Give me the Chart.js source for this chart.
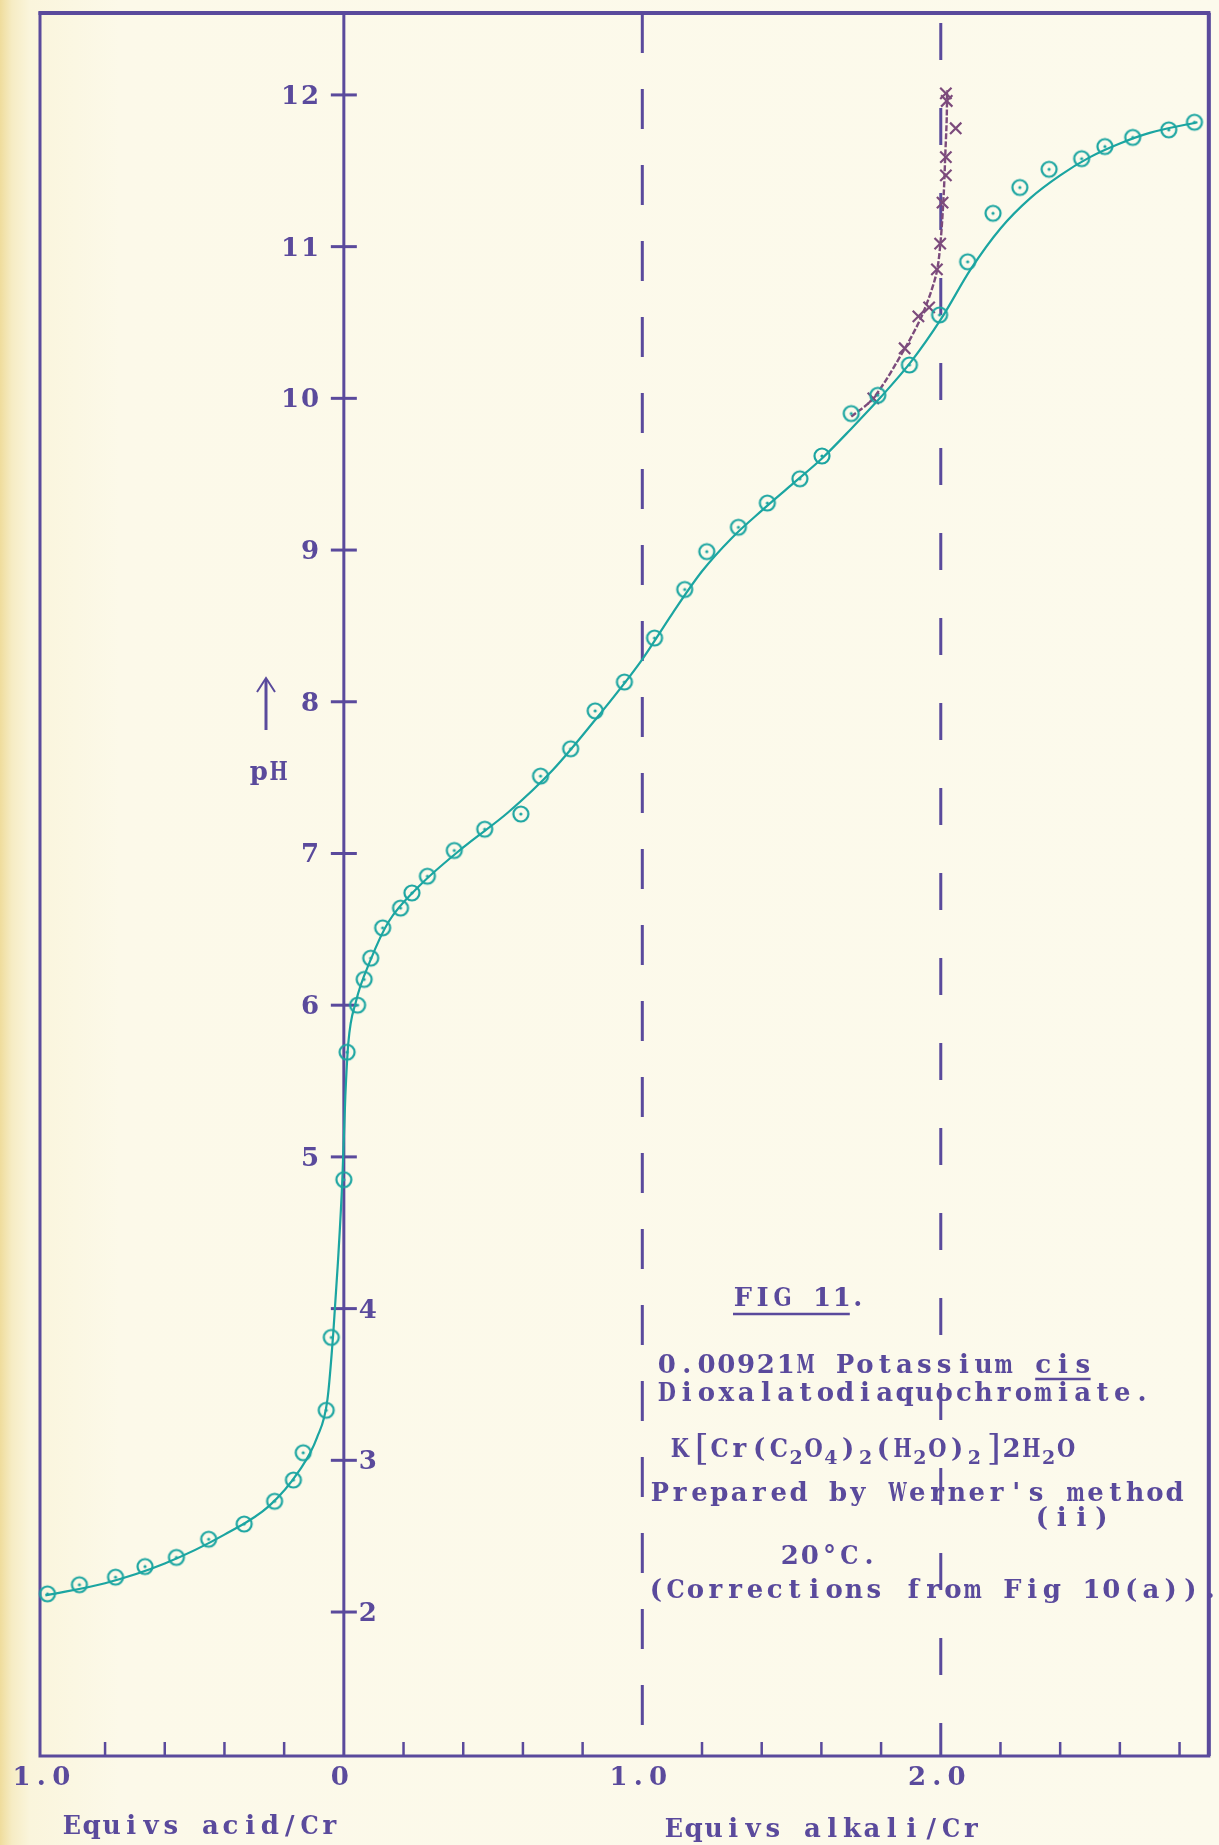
<!DOCTYPE html>
<html>
<head>
<meta charset="utf-8">
<script src="https://cdn.jsdelivr.net/npm/chart.js@4.4.1/dist/chart.umd.min.js"></script>
<style>
  html, body { margin: 0; padding: 0; background: #fbf8e6; }
  #wrap {
    position: relative; width: 1219px; height: 1845px;
    background: linear-gradient(to right, #efdc9c 0px, #f6ecc4 12px, #faf5dc 30px, #fcf9e9 120px, #fcfaec 100%);
  }
  canvas { display: block; }
</style>
</head>
<body>
<div id="wrap"><canvas id="titration" width="1219" height="1845"></canvas></div>
<script>
// Equivs acid/Cr are plotted as negative x (left of zero), alkali as positive
const pointX = [-0.993, -0.886, -0.765, -0.666, -0.561, -0.453, -0.334, -0.232, -0.169, -0.136,
  -0.059, -0.042, 0.000, 0.011, 0.046, 0.068, 0.090, 0.130, 0.190, 0.228, 0.280, 0.370, 0.472,
  0.593, 0.659, 0.760, 0.842, 0.940, 1.041, 1.142, 1.216, 1.322, 1.419, 1.528, 1.602, 1.700,
  1.789, 1.895, 1.996, 2.090, 2.175, 2.265, 2.363, 2.472, 2.550, 2.643, 2.764, 2.850];
const pointPH = [2.12, 2.18, 2.23, 2.30, 2.36, 2.48, 2.58, 2.73, 2.87, 3.05,
  3.33, 3.81, 4.85, 5.69, 6.00, 6.17, 6.31, 6.51, 6.64, 6.74, 6.85, 7.02, 7.16,
  7.26, 7.51, 7.69, 7.94, 8.13, 8.42, 8.74, 8.99, 9.15, 9.31, 9.47, 9.62, 9.90,
  10.02, 10.22, 10.55, 10.90, 11.22, 11.39, 11.51, 11.58, 11.66, 11.72, 11.77, 11.82];

// hand drawn smooth curve through the circles
const curveX = [-1.0, -0.8, -0.6, -0.4, -0.25, -0.15, -0.09, -0.055, -0.035, -0.02, -0.005, 0.005,
  0.015, 0.04, 0.09, 0.15, 0.25, 0.4, 0.55, 0.7, 0.85, 1.0, 1.1, 1.2, 1.3, 1.4, 1.5, 1.6, 1.7, 1.8,
  1.9, 2.0, 2.1, 2.2, 2.3, 2.4, 2.5, 2.6, 2.7, 2.86];
const curvePH = [2.11, 2.19, 2.32, 2.51, 2.70, 2.93, 3.15, 3.40, 3.85, 4.30, 4.85, 5.40,
  5.75, 6.02, 6.30, 6.55, 6.78, 7.04, 7.27, 7.55, 7.90, 8.28, 8.58, 8.86, 9.08, 9.26, 9.43, 9.60, 9.80, 10.01,
  10.24, 10.52, 10.85, 11.12, 11.32, 11.47, 11.59, 11.68, 11.75, 11.82];

// second run (crosses)
const crossX = [1.774, 1.879, 1.925, 1.961, 1.987, 1.998, 2.006, 2.017, 2.017, 2.050, 2.020, 2.017];
const crossPH = [10.00, 10.33, 10.54, 10.60, 10.85, 11.02, 11.29, 11.47, 11.59, 11.78, 11.96, 12.01];
const crossLineX = [1.70, 1.774, 1.88, 1.94, 1.985, 2.0, 2.01, 2.015, 2.02, 2.021];
const crossLinePH = [9.88, 10.00, 10.33, 10.56, 10.82, 11.05, 11.35, 11.60, 11.85, 12.03];

const xMinorTicks = [-0.8, -0.6, -0.4, -0.2, 0.2, 0.4, 0.6, 0.8, 1.2, 1.4, 1.6, 1.8, 2.2, 2.4, 2.6, 2.8];
const xLabelValues = [-1, 0, 1, 2];
const xLabelTexts = ['1.0', '0', '1.0', '2.0'];
const yTicks = [2, 3, 4, 5, 6, 7, 8, 9, 10, 11, 12];
const dashedAt = [1, 2];

const INK = '#5a4a9c';
const TEAL = '#1ba5a1';
const PLUM = '#7c4b7c';
const FACE = '"DejaVu Serif", "Liberation Serif", serif';
const FONT = 'bold 26px ' + FACE;
const SUBFONT = 'bold 19px ' + FACE;
const PITCH = 19.8;

// circle with a dot in the middle, as drawn by hand
function ringDot(color) {
  const c = document.createElement('canvas');
  c.width = 22; c.height = 22;
  const g = c.getContext('2d');
  g.strokeStyle = color; g.lineWidth = 2.2;
  g.beginPath(); g.arc(11, 11, 7.5, 0, Math.PI * 2); g.stroke();
  g.fillStyle = color;
  g.beginPath(); g.arc(11, 11, 1.6, 0, Math.PI * 2); g.fill();
  return c;
}

function toXY(xs, ys) {
  return xs.map((v, i) => ({ x: v, y: ys[i] }));
}

// typewriter: every character gets the same pitch, wide letters squeezed
function typeText(ctx, str, x, y, pitch) {
  ctx.textAlign = 'center';
  const maxW = pitch * 0.92;
  for (let i = 0; i < str.length; i++) {
    const ch = str[i];
    if (ch === ' ') continue;
    const w = ctx.measureText(ch).width;
    const s = w > maxW ? maxW / w : 1;
    ctx.save();
    ctx.translate(x + i * pitch + pitch / 2, y);
    ctx.scale(s, 1);
    ctx.fillText(ch, 0, 0);
    ctx.restore();
  }
  return x + str.length * pitch;
}

function seg(ctx, x1, y1, x2, y2) {
  ctx.beginPath(); ctx.moveTo(x1, y1); ctx.lineTo(x2, y2); ctx.stroke();
}

const paperPlugin = {
  id: 'paper',
  beforeDatasetsDraw(chart) {
    const { ctx, chartArea: a, scales: { x, y } } = chart;
    ctx.save();
    ctx.strokeStyle = INK;
    ctx.lineCap = 'butt';
    ctx.lineWidth = 3;
    ctx.strokeRect(a.left, a.top, a.right - a.left, a.bottom - a.top);
    ctx.lineWidth = 4;
    seg(ctx, a.left - 1.5, a.top, a.right + 1.5, a.top);
    seg(ctx, a.right, a.top, a.right, a.bottom);

    ctx.lineWidth = 3;
    const x0 = x.getPixelForValue(0);
    seg(ctx, x0, a.top, x0, a.bottom);
    yTicks.forEach(v => {
      const py = y.getPixelForValue(v);
      seg(ctx, x0 - 13, py, x0 + 13, py);
    });
    ctx.lineWidth = 2.5;
    xMinorTicks.forEach(v => {
      const px = x.getPixelForValue(v);
      seg(ctx, px, a.bottom, px, a.bottom - 14);
    });

    ctx.lineWidth = 3;
    dashedAt.forEach((v, i) => {
      const px = x.getPixelForValue(v);
      ctx.setLineDash(i === 0 ? [40, 36] : [37, 48]);
      ctx.lineDashOffset = i === 0 ? 0 : -10;
      seg(ctx, px, a.top, px, a.bottom);
    });
    ctx.setLineDash([]);
    ctx.restore();
  },
  afterDraw(chart) {
    const { ctx, chartArea: a, scales: { x, y } } = chart;
    const x0 = x.getPixelForValue(0);
    ctx.save();
    ctx.fillStyle = INK;
    ctx.strokeStyle = INK;
    ctx.font = FONT;
    ctx.textBaseline = 'alphabetic';
    const B = 9; // centre -> baseline

    // pH tick labels: left of the axis above 4, right of it below
    yTicks.forEach(v => {
      const py = y.getPixelForValue(v) + B;
      const s = String(v);
      if (v >= 5) typeText(ctx, s, x0 - 24 - s.length * PITCH, py, PITCH);
      else typeText(ctx, s, x0 + 14, py, PITCH);
    });

    xLabelValues.forEach((v, i) => {
      const s = xLabelTexts[i];
      const px = x.getPixelForValue(v) - 4;
      typeText(ctx, s, px - s.length * PITCH / 2, a.bottom + 20 + B, PITCH);
    });
    typeText(ctx, 'Equivs acid/Cr', 62, 1825 + B, PITCH);
    typeText(ctx, 'Equivs alkali/Cr', 664, 1828 + B, PITCH);

    // pH arrow
    ctx.lineWidth = 3;
    seg(ctx, 266, 730, 266, 680);
    ctx.lineWidth = 2;
    ctx.beginPath(); ctx.moveTo(257, 692); ctx.lineTo(266, 678); ctx.lineTo(275, 692); ctx.stroke();
    typeText(ctx, 'pH', 249, 771 + B, PITCH);

    // figure notes
    let end = typeText(ctx, 'FIG 11', 733, 1297 + B, PITCH);
    ctx.lineWidth = 2.5;
    seg(ctx, 733, 1314, end - 2, 1314);
    typeText(ctx, '.', end, 1297 + B, PITCH * 0.6);

    typeText(ctx, '0.00921M Potassium cis', 657, 1364 + B, PITCH);
    seg(ctx, 657 + 19 * PITCH + 2, 1379, 657 + 22 * PITCH - 2, 1379);
    typeText(ctx, 'Dioxalatodiaquochromiate.', 657, 1392 + B, PITCH);

    // K[Cr(C2O4)2(H2O)2]2H2O with subscripts
    const formula = [['K', 0], ['[', 2], ['C', 0], ['r', 0], ['(', 0], ['C', 0], ['2', 1], ['O', 0], ['4', 1],
      [')', 0], ['2', 1], ['(', 0], ['H', 0], ['2', 1], ['O', 0], [')', 0], ['2', 1], [']', 2],
      ['2', 0], ['H', 0], ['2', 1], ['O', 0]];
    let fx = 670;
    formula.forEach(([ch, kind]) => {
      if (kind === 1) {
        ctx.font = SUBFONT;
        typeText(ctx, ch, fx, 1448 + B + 7, PITCH * 0.75);
        fx += PITCH * 0.75;
      } else if (kind === 2) {
        ctx.font = '36px ' + FACE;
        typeText(ctx, ch, fx + 2, 1448 + B + 3, PITCH);
        fx += PITCH;
      } else {
        ctx.font = FONT;
        typeText(ctx, ch, fx, 1448 + B, PITCH);
        fx += PITCH;
      }
    });
    ctx.font = FONT;

    typeText(ctx, "Prepared by Werner's method", 650, 1492 + B, PITCH);
    typeText(ctx, '(ii)', 1032, 1517 + B, PITCH);
    typeText(ctx, '20°C.', 780, 1555 + B, PITCH);
    typeText(ctx, '(Corrections from Fig 10(a)).', 646, 1589 + B, PITCH);
    ctx.restore();
  }
};

new Chart(document.getElementById('titration'), {
  type: 'scatter',
  data: {
    datasets: [
      {
        label: 'curve',
        data: toXY(curveX, curvePH),
        showLine: true,
        borderColor: TEAL,
        borderWidth: 2.2,
        pointRadius: 0,
        cubicInterpolationMode: 'monotone',
        clip: false
      },
      {
        label: 'pH (circles)',
        data: toXY(pointX, pointPH),
        showLine: false,
        pointStyle: ringDot(TEAL),
        pointRadius: 8,
        clip: false
      },
      {
        label: 'crosses line',
        data: toXY(crossLineX, crossLinePH),
        showLine: true,
        borderColor: PLUM,
        borderWidth: 2.4,
        borderDash: [6, 2],
        tension: 0.3,
        pointRadius: 0,
        clip: false
      },
      {
        label: 'crosses',
        data: toXY(crossX, crossPH),
        showLine: false,
        pointStyle: 'crossRot',
        pointRadius: 8,
        pointBorderWidth: 2.2,
        pointBorderColor: PLUM,
        clip: false
      }
    ]
  },
  options: {
    responsive: false,
    devicePixelRatio: 1,
    animation: false,
    layout: { padding: { left: 40, right: 2, top: 13, bottom: 89 } },
    scales: {
      x: { type: 'linear', min: -1.018, max: 2.898, display: false },
      y: { type: 'linear', min: 1.051, max: 12.54, display: false }
    },
    plugins: { legend: { display: false }, tooltip: { enabled: false } }
  },
  plugins: [paperPlugin]
});
</script>
</body>
</html>
